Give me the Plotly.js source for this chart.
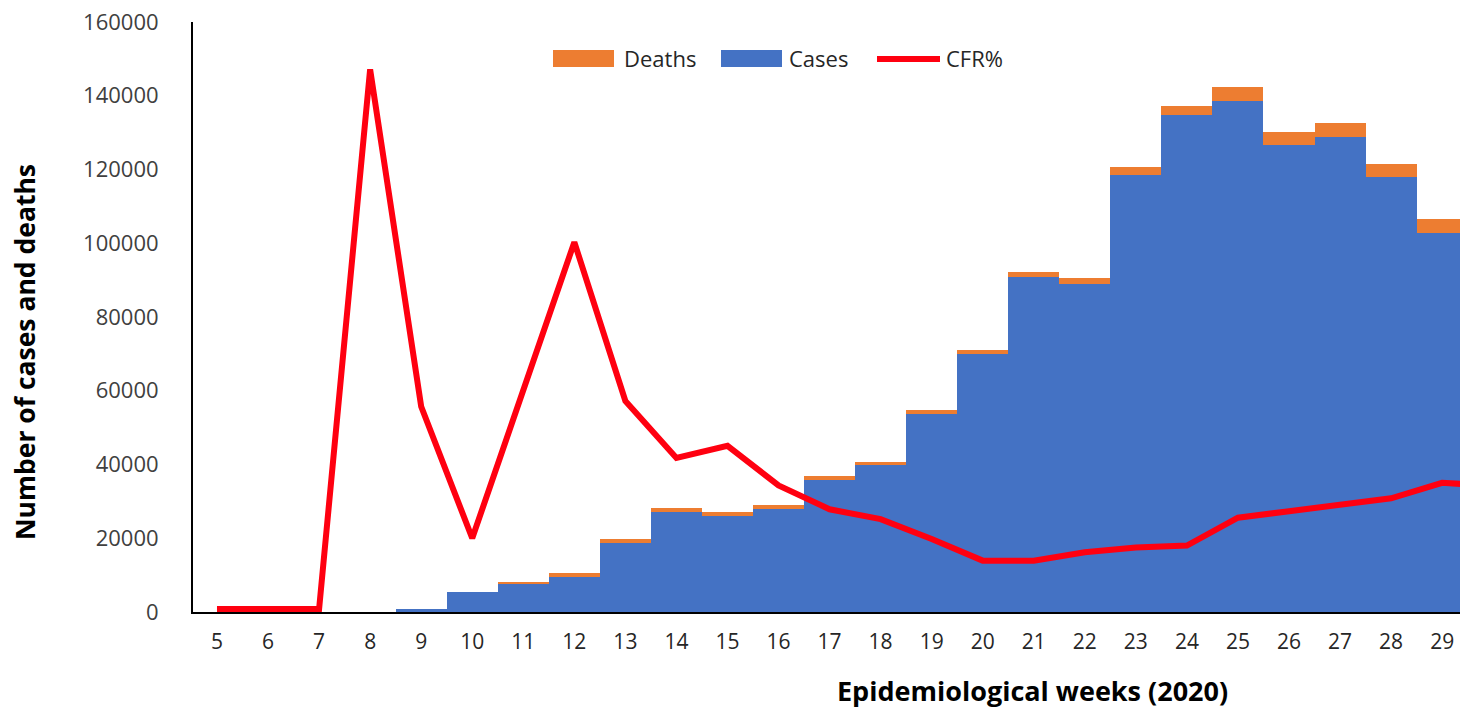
<!DOCTYPE html>
<html>
<head>
<meta charset="utf-8">
<script src="https://cdn.plot.ly/plotly-3.0.1.min.js"></script>
<style>
  html, body { margin: 0; padding: 0; background: #fff; }
  #chart { width: 1460px; height: 709px; }
</style>
</head>
<body>
<div id="chart"></div>
<script>
// ---- data ----
const weeks = [5, 6, 7, 8, 9, 10, 11, 12, 13, 14, 15, 16, 17, 18, 19, 20, 21, 22, 23, 24, 25, 26, 27, 28, 29];
const cases = [0, 0, 0, 0, 700, 5400, 7700, 9500, 18700, 27000, 26000, 28000, 35800, 39800, 53700, 70100, 90800, 89000, 118600, 134700, 138700, 126700, 128700, 118000, 102900];
const deaths = [0, 0, 0, 0, 40, 100, 460, 1000, 1100, 1150, 1200, 1000, 1100, 1000, 1100, 1000, 1300, 1500, 2000, 2500, 3600, 3500, 3800, 3500, 3700];
const cfrWeeks = [5, 6, 7, 8, 9, 10, 11, 12, 13, 14, 15, 16, 17, 18, 19, 20, 21, 22, 23, 24, 25, 26, 27, 28, 29, 30];
const cfr = [0, 0, 0, 14.71, 5.52, 1.93, 5.95, 10.0, 5.67, 4.12, 4.45, 3.37, 2.72, 2.45, 1.91, 1.32, 1.32, 1.55, 1.68, 1.73, 2.49, 2.66, 2.81, 3.02, 3.44, 3.36];
const yTicks = [0, 20000, 40000, 60000, 80000, 100000, 120000, 140000, 160000];
const legendLabels = ["Deaths", "Cases", "CFR%"];

// ---- styling ----
const BLUE = "#4472C4", ORANGE = "#ED7D31", RED = "#FF0010";
const FONT = "Open Sans, Lato, sans-serif";
const W = 1460, H = 709;
const M = { l: 193, r: 0, t: 22, b: 97 };
const PW = W - M.l - M.r, PH = H - M.t - M.b;
const px = x => (x - M.l) / PW;           // pixel -> paper x
const py = y => (H - M.b - y) / PH;       // pixel -> paper y

const traces = [
  { type: "bar", x: weeks, y: cases, name: "Cases", marker: { color: BLUE, line: { width: 0 } }, showlegend: false, hoverinfo: "x+y" },
  { type: "bar", x: weeks, y: deaths, name: "Deaths", marker: { color: ORANGE, line: { width: 0 } }, showlegend: false, hoverinfo: "x+y" },
  { type: "scatter", mode: "lines", x: cfrWeeks, y: cfr, name: "CFR%", yaxis: "y2", line: { color: RED, width: 6 }, showlegend: false }
];

// custom legend (large swatches like the reference)
const shapes = [
  { type: "rect", xref: "paper", yref: "paper", x0: px(553), x1: px(614), y0: py(67), y1: py(50), fillcolor: ORANGE, line: { width: 0 } },
  { type: "rect", xref: "paper", yref: "paper", x0: px(721), x1: px(782), y0: py(67), y1: py(50), fillcolor: BLUE, line: { width: 0 } },
  { type: "line", xref: "paper", yref: "paper", x0: px(877), x1: px(940), y0: py(59), y1: py(59), line: { color: RED, width: 6 } }
];
const legendX = [622, 787, 944];
const annotations = legendLabels.map((t, i) => ({
  text: t, xref: "paper", yref: "paper", x: px(legendX[i]), y: py(58), xanchor: "left", yanchor: "middle",
  showarrow: false, font: { family: FONT, size: 22, color: "#262626" }
}));
annotations.push({
  text: "<b>Number of cases and deaths</b>", xref: "paper", yref: "paper", x: px(25), y: py(352),
  xanchor: "center", yanchor: "middle", textangle: -90, showarrow: false,
  font: { family: FONT, size: 26.5, color: "#000" }
});
annotations.push({
  text: "<b>Epidemiological weeks (2020)</b>", xref: "paper", yref: "paper", x: px(1032), y: py(690),
  xanchor: "center", yanchor: "middle", showarrow: false,
  font: { family: FONT, size: 27, color: "#000" }
});

const layout = {
  width: W, height: H,
  margin: M,
  paper_bgcolor: "#fff", plot_bgcolor: "#fff",
  barmode: "stack", bargap: 0,
  showlegend: false,
  font: { family: FONT, size: 22, color: "#404040" },
  xaxis: {
    range: [4.53, 29.35], tickmode: "array", tickvals: weeks, ticktext: weeks.map(String),
    showgrid: false, zeroline: false, showline: true, linecolor: "#000", linewidth: 2,
    ticks: "", ticklabelstandoff: 10, tickfont: { family: FONT, size: 21, color: "#262626" }
  },
  yaxis: {
    range: [0, 160000], tickmode: "array", tickvals: yTicks, ticktext: yTicks.map(String),
    showgrid: false, zeroline: false, showline: true, linecolor: "#000", linewidth: 2,
    ticks: "", ticklabelstandoff: 28, tickfont: { family: FONT, size: 22, color: "#404040" }
  },
  yaxis2: { range: [-0.08, 16], overlaying: "y", visible: false, showgrid: false, zeroline: false },
  shapes: shapes,
  annotations: annotations
};

Plotly.newPlot("chart", traces, layout, { displayModeBar: false, staticPlot: true });
</script>
</body>
</html>
